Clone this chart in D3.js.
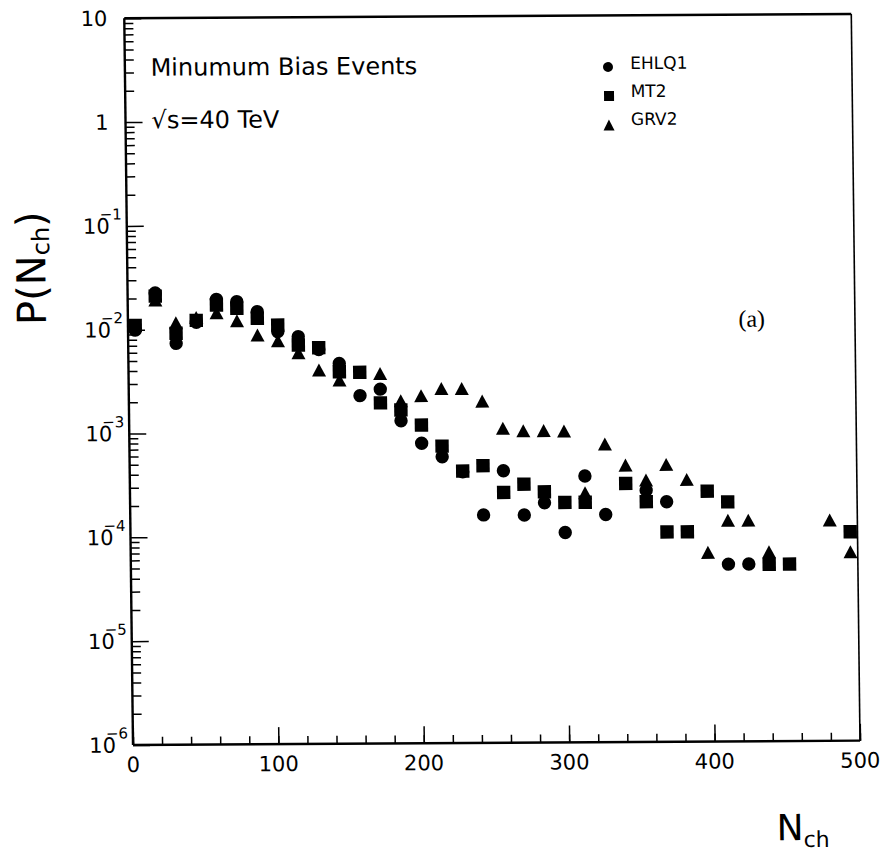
<!DOCTYPE html>
<html>
<head>
<meta charset="utf-8">
<script src="https://cdn.jsdelivr.net/npm/d3@7"></script>
<style>
  html, body { margin: 0; padding: 0; background: #fff; }
  svg { display: block; }
  text { font-family: "DejaVu Sans", sans-serif; fill: #000; }
</style>
</head>
<body>
<svg id="chart" width="884" height="854"></svg>
<script>
// ---- data ----
const NCH = [5, 19, 33, 47, 61, 75, 89, 103, 117, 131, 145, 159, 173, 187, 201, 215, 229, 243,
             257, 271, 285, 299, 313, 327, 341, 355, 369, 383, 397, 411, 425, 439, 453, 467, 481, 495];

const EHLQ1 = [0.0099, 0.0225, 0.00734, 0.0117, 0.0194, 0.0184, 0.0147, 0.0094, 0.0084, 0.0063,
               0.0046, 0.00225, 0.00259, 0.00128, 0.000775, 0.000573, 0.00041, 0.000157,
               0.000417, 0.000156, 0.000204, 0.000105, 0.000367, 0.000156, null, 0.000265,
               0.000205, null, null, 5.1e-5, 5.1e-5, null, null, null, null, null];

const MT2 = [0.0110, 0.0210, 0.00917, 0.0122, 0.0171, 0.01585, 0.01265, 0.01088, 0.00697, 0.00655,
             0.00383, 0.00377, 0.00191, 0.00163, 0.00116, 0.000726, 0.000416, 0.000468,
             0.000258, 0.000309, 0.00026, 0.000205, 0.000205, null, 0.00031, 0.000206,
             0.000105, 0.000105, 0.000258, 0.000203, null, 5.05e-5, 5.07e-5, null, null, 0.000103];

const GRV2 = [null, 0.0193, 0.0116, 0.0130, 0.0144, 0.01205, 0.00875, 0.00769, 0.00587, 0.00399,
              0.00319, null, 0.00367, 0.0020, 0.00223, 0.00261, 0.0026, 0.00196,
              0.00107, 0.00101, 0.00101, 0.00100, 0.000253, 0.000744, 0.000465, 0.000333,
              0.00047, 0.000336, 6.64e-5, 0.000135, 0.000135, 6.68e-5, null, null, 0.000134, 6.6e-5];

const X_TICK_LABELS = [0, 100, 200, 300, 400, 500];
const X_MINOR = d3.range(0, 501, 20);
const Y_DECADES = [10, 1, 1e-1, 1e-2, 1e-3, 1e-4, 1e-5, 1e-6];
const Y_EXP = ["", "", "−1", "−2", "−3", "−4", "−5", "−6"];
const Y_BASE = ["10", "1", "10", "10", "10", "10", "10", "10"];
const SERIES = ["EHLQ1", "MT2", "GRV2"];

// ---- layout ----
const svg = d3.select("#chart");
// slight skew of the scanned original
const g = svg.append("g").attr("transform", "matrix(1,-0.006,0.012,1,-8.94,0.8)");

const x = d3.scaleLinear().domain([0, 500]).range([133, 860]);
const y = d3.scaleLog().domain([1e-6, 10]).range([745, 18.3]);

// minor y ticks
const yMinor = [];
for (let e = -6; e < 1; e++) for (let k = 2; k <= 9; k++) yMinor.push(k * Math.pow(10, e));

const axisYMinor = d3.axisLeft(y).tickValues(yMinor).tickSize(-9).tickFormat("");
const axisYMajor = d3.axisLeft(y).tickValues(Y_DECADES).tickSize(-17).tickFormat("");
const axisXMinor = d3.axisBottom(x).tickValues(X_MINOR).tickSize(-8).tickFormat("");
const axisXMajor = d3.axisBottom(x).tickValues(X_TICK_LABELS).tickSize(-17).tickFormat("");

function styleAxis(sel) {
  sel.select(".domain").remove();
  sel.selectAll(".tick line").attr("stroke", "#000").attr("stroke-width", 1.5);
}
g.append("g").attr("transform", `translate(${x(0)},0)`).call(axisYMinor).call(styleAxis);
g.append("g").attr("transform", `translate(${x(0)},0)`).call(axisYMajor).call(styleAxis);
g.append("g").attr("transform", `translate(0,${y(1e-6)})`).call(axisXMinor).call(styleAxis);
g.append("g").attr("transform", `translate(0,${y(1e-6)})`).call(axisXMajor).call(styleAxis);

// frame
const fx0 = x(0), fx1 = x(500), fy0 = y(10), fy1 = y(1e-6);
g.append("line").attr("x1", fx0).attr("x2", fx1).attr("y1", fy0).attr("y2", fy0).attr("stroke", "#000").attr("stroke-width", 2.4);
g.append("line").attr("x1", fx1).attr("x2", fx1).attr("y1", fy0).attr("y2", fy1).attr("stroke", "#000").attr("stroke-width", 1.6);
g.append("line").attr("x1", fx0).attr("x2", fx1).attr("y1", fy1).attr("y2", fy1).attr("stroke", "#000").attr("stroke-width", 2.4);
g.append("line").attr("x1", fx0).attr("x2", fx0).attr("y1", fy0).attr("y2", fy1).attr("stroke", "#000").attr("stroke-width", 2.4);

// x tick labels
g.selectAll(".xl").data(X_TICK_LABELS).enter().append("text")
  .attr("x", d => x(d)).attr("y", fy1 + 27)
  .attr("text-anchor", "middle").style("font-size", "21px")
  .text(d => d);

// y tick labels
Y_DECADES.forEach((v, i) => {
  const ty = y(v);
  g.append("text").attr("x", fx0 - 17).attr("y", ty + 7.5)
    .attr("text-anchor", "end").style("font-size", "21px").text(Y_BASE[i]);
  if (Y_EXP[i]) {
    g.append("text").attr("x", fx0 - 27).attr("y", ty - 6.5)
      .attr("text-anchor", "start").style("font-size", "15px").text(Y_EXP[i]);
  }
});

// axis titles
const yt = g.append("text").attr("transform", `translate(51,324.5) rotate(-90)`)
  .style("font-size", "40px");
yt.append("tspan").text("P(N");
yt.append("tspan").attr("dy", 4).style("font-size", "24px").text("ch");
yt.append("tspan").attr("dy", -4).text(")");

const xt = g.append("text").attr("x", 775.5).attr("y", 844).style("font-size", "36px");
xt.append("tspan").text("N");
xt.append("tspan").attr("dy", 7).style("font-size", "22px").text("ch");

// annotations
g.append("text").attr("x", 158.7).attr("y", 75.9).style("font-size", "24px").text("Minumum Bias Events");
g.append("text").attr("x", 159).attr("y", 128.5).style("font-size", "24px").text("√s=40 TeV");
g.append("text").attr("x", x(429)).attr("y", y(Math.pow(10, -1.93)) + 8)
  .attr("text-anchor", "middle")
  .style("font-family", "'Liberation Serif', serif").style("font-size", "24px").text("(a)");

// markers
function triPath(cx, cy, w, h) {
  return `M${cx - w / 2},${cy + h / 2}L${cx + w / 2},${cy + h / 2}L${cx},${cy - h / 2}Z`;
}
const pts = (arr) => arr.map((v, i) => ({ n: NCH[i], v })).filter(d => d.v != null);

g.append("g").selectAll("path").data(pts(GRV2)).enter().append("path")
  .attr("d", d => triPath(x(d.n), y(d.v), 14, 13)).attr("fill", "#000");
g.append("g").selectAll("rect").data(pts(MT2)).enter().append("rect")
  .attr("x", d => x(d.n) - 6.7).attr("y", d => y(d.v) - 6.7)
  .attr("width", 13.4).attr("height", 13.4).attr("fill", "#000");
g.append("g").selectAll("circle").data(pts(EHLQ1)).enter().append("circle")
  .attr("cx", d => x(d.n)).attr("cy", d => y(d.v)).attr("r", 6.7).attr("fill", "#000");

// legend
const legend = [
  { name: SERIES[0], mx: 616.1, my: 69.9, ty: 72.1 },
  { name: SERIES[1], mx: 616.8, my: 98.9, ty: 100.1 },
  { name: SERIES[2], mx: 616.4, my: 127.9, ty: 128.1 }
];
g.append("circle").attr("cx", legend[0].mx).attr("cy", legend[0].my).attr("r", 5).attr("fill", "#000");
g.append("rect").attr("x", legend[1].mx - 5).attr("y", legend[1].my - 5).attr("width", 10).attr("height", 10).attr("fill", "#000");
g.append("path").attr("d", triPath(legend[2].mx, legend[2].my, 11, 11)).attr("fill", "#000");
legend.forEach(l => {
  g.append("text").attr("x", 638.4).attr("y", l.ty).style("font-size", "17px").text(l.name);
});
</script>
</body>
</html>
